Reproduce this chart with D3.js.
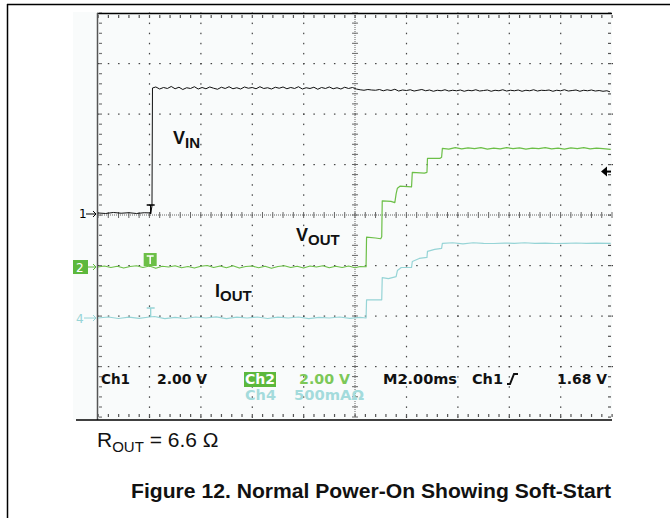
<!DOCTYPE html>
<html>
<head>
<meta charset="utf-8">
<script src="https://cdn.jsdelivr.net/npm/d3@7"></script>
<style>
  body { margin: 0; background: #fff; }
  svg { display: block; }
</style>
</head>
<body>
<svg id="chart" width="670" height="518"></svg>
<script>
// Scope capture: 10 x 8 divisions, M2.00ms/div
// time in ms (0..20), values in V or A

var vinData = [
  [0, 0.04], [0.3, 0.02], [0.6, 0.06], [0.9, 0.03], [1.2, 0.05], [1.5, 0.02], [1.8, 0.05], [2.05, 0.04],
  [2.1, 0.3], [2.12, 4.99], [2.25, 5.03], [2.4, 4.95], [2.55, 5.01], [2.7, 4.97], [2.85, 5.05], [3.0, 4.96],
  [3.15, 5.02], [3.3, 4.93], [3.45, 5.0], [3.6, 4.97], [3.75, 5.04], [3.9, 4.95], [4.05, 5.01], [4.2, 4.96],
  [4.35, 5.03], [4.5, 4.98], [4.65, 4.94], [4.8, 5.02], [4.95, 4.97], [5.1, 5.04], [5.25, 4.96], [5.4, 5.0],
  [5.55, 4.95], [5.7, 5.03], [5.85, 4.98], [6.0, 5.01], [6.15, 4.96], [6.3, 5.04], [6.45, 4.97], [6.6, 5.0],
  [6.75, 4.95], [6.9, 5.02], [7.05, 4.98], [7.2, 5.03], [7.35, 4.96], [7.5, 5.01], [7.65, 4.97], [7.8, 5.04],
  [7.95, 4.95], [8.1, 5.0], [8.25, 4.97], [8.4, 5.02], [8.55, 4.94], [8.7, 5.01], [8.85, 4.97], [9.0, 5.03],
  [9.15, 4.96], [9.3, 5.0], [9.45, 4.95], [9.6, 5.02], [9.75, 4.97], [9.9, 5.01], [10.05, 4.95],
  [10.2, 4.92], [10.35, 4.9], [10.5, 4.93], [10.65, 4.91], [10.8, 4.9], [10.95, 4.93], [11.1, 4.88], [11.25, 4.92],
  [11.4, 4.89], [11.55, 4.94], [11.7, 4.87], [11.85, 4.91], [12.0, 4.89], [12.15, 4.92], [12.3, 4.87], [12.45, 4.9],
  [12.6, 4.93], [12.75, 4.88], [12.9, 4.91], [13.05, 4.86], [13.2, 4.9], [13.35, 4.88], [13.5, 4.92], [13.65, 4.87],
  [13.8, 4.9], [13.95, 4.88], [14.1, 4.91], [14.25, 4.86], [14.4, 4.9], [14.55, 4.88], [14.7, 4.92], [14.85, 4.87],
  [15.0, 4.89], [15.15, 4.91], [15.3, 4.86], [15.45, 4.9], [15.6, 4.88], [15.75, 4.92], [15.9, 4.87], [16.05, 4.9],
  [16.2, 4.88], [16.35, 4.91], [16.5, 4.86], [16.65, 4.9], [16.8, 4.88], [16.95, 4.92], [17.1, 4.87], [17.25, 4.9],
  [17.4, 4.89], [17.55, 4.91], [17.7, 4.86], [17.85, 4.9], [18.0, 4.88], [18.15, 4.92], [18.3, 4.87], [18.45, 4.89],
  [18.6, 4.91], [18.75, 4.86], [18.9, 4.9], [19.05, 4.88], [19.2, 4.91], [19.35, 4.87], [19.5, 4.89], [19.65, 4.86],
  [19.8, 4.88], [19.92, 4.84]
];

var voutData = [
  [0, 0.0], [0.25, 0.04], [0.5, -0.02], [0.75, 0.03], [1.0, -0.04], [1.25, 0.02], [1.5, 0.05], [1.75, -0.02],
  [2.0, 0.04], [2.25, -0.05], [2.5, 0.03], [2.75, 0.0], [3.0, 0.05], [3.25, -0.03], [3.5, 0.02], [3.75, -0.04],
  [4.0, 0.03], [4.25, 0.06], [4.5, -0.02], [4.75, 0.04], [5.0, -0.03], [5.25, 0.05], [5.5, -0.04], [5.75, 0.02],
  [6.0, 0.04], [6.25, -0.03], [6.5, 0.03], [6.75, -0.05], [7.0, 0.02], [7.25, 0.05], [7.5, -0.02], [7.75, 0.03],
  [8.0, -0.04], [8.25, 0.04], [8.5, 0.0], [8.75, 0.05], [9.0, -0.03], [9.25, 0.03], [9.5, -0.02], [9.75, 0.04],
  [10.0, -0.03], [10.2, 0.02], [10.43, 0.01],
  [10.45, 1.18], [10.8, 1.15], [11.0, 1.12], [11.04, 1.2], [11.06, 2.62], [11.4, 2.6], [11.55, 2.55],
  [11.6, 2.9], [11.65, 3.12], [11.75, 3.2], [12.2, 3.17], [12.23, 3.75], [12.7, 3.72], [12.8, 3.75],
  [12.82, 4.3], [13.3, 4.3], [13.37, 4.35], [13.4, 4.7],
  [13.65, 4.67], [13.9, 4.73], [14.15, 4.68], [14.4, 4.72], [14.65, 4.69], [14.9, 4.73], [15.15, 4.67],
  [15.4, 4.71], [15.65, 4.68], [15.9, 4.73], [16.15, 4.69], [16.4, 4.72], [16.65, 4.67], [16.9, 4.71],
  [17.15, 4.69], [17.4, 4.73], [17.65, 4.68], [17.9, 4.71], [18.15, 4.67], [18.4, 4.72], [18.65, 4.69],
  [18.9, 4.73], [19.15, 4.68], [19.4, 4.71], [19.65, 4.69], [19.95, 4.66]
];

var ioutData = [
  [0, 0.0], [0.4, 0.01], [0.8, -0.005], [1.2, 0.008], [1.6, -0.004], [2.0, 0.01], [2.2, 0.015], [2.6, -0.006],
  [3.0, 0.007], [3.4, -0.005], [3.8, 0.01], [4.2, 0.0], [4.6, 0.012], [5.0, -0.006], [5.4, 0.008], [5.8, 0.0],
  [6.2, 0.01], [6.6, -0.005], [7.0, 0.009], [7.4, 0.0], [7.8, 0.01], [8.2, -0.006], [8.6, 0.007], [9.0, 0.0],
  [9.4, 0.01], [9.8, -0.004], [10.2, 0.006], [10.43, 0.0],
  [10.45, 0.18], [11.04, 0.18], [11.06, 0.40], [11.3, 0.39], [11.6, 0.41], [11.65, 0.47], [11.8, 0.5],
  [12.2, 0.5], [12.23, 0.56], [12.5, 0.59], [12.8, 0.6], [12.82, 0.66], [13.1, 0.68], [13.37, 0.69],
  [13.4, 0.74], [13.8, 0.745], [14.2, 0.735], [14.6, 0.745], [15.0, 0.74], [15.4, 0.738], [15.8, 0.742],
  [16.2, 0.74], [16.6, 0.745], [17.0, 0.74], [17.4, 0.742], [17.8, 0.738], [18.2, 0.74], [18.6, 0.743],
  [19.0, 0.74], [19.4, 0.742], [19.95, 0.74]
];

// channel setup: volts (or amps) per division and ground offset in divisions
var channels = [
  { id: "1", perDiv: 2.0, offset: 0.02, color: "#111111", width: 1.0, data: vinData },
  { id: "2", perDiv: 2.0, offset: -1.03, color: "#6cbf47", width: 1.2, data: voutData },
  { id: "4", perDiv: 0.5, offset: -2.04, color: "#96d4d6", width: 1.2, data: ioutData }
];

var triggerTime = 2.05;
var triggerLevel = 1.68;

var svg = d3.select("#chart");

var xScale = d3.scaleLinear().domain([0, 20]).range([98, 612]);
var yScale = d3.scaleLinear().domain([-4, 4]).range([417, 13]);

// page frame
svg.append("line").attr("x1", 7).attr("x2", 670).attr("y1", 4.5).attr("y2", 4.5)
  .style("stroke", "#000").style("stroke-width", 1.5);
svg.append("line").attr("x1", 7.5).attr("x2", 7.5).attr("y1", 4).attr("y2", 518)
  .style("stroke", "#000").style("stroke-width", 1.5);

// scope background
svg.append("rect").attr("x", 73).attr("y", 12).attr("width", 539).attr("height", 408)
  .style("fill", "#f9fbfb");

var grid = svg.append("g");

// minor positions
var xMinor = d3.range(0, 20.001, 0.4);
var yMinor = d3.range(-4, 4.001, 0.2);
var xMajor = d3.range(2, 19, 2);
var yMajor = d3.range(-3, 3.5, 1);

// dotted major lines
xMajor.filter(d => d !== 10).forEach(function (t) {
  grid.selectAll(null).data(yMinor).enter().append("rect")
    .attr("x", xScale(t) - 0.5).attr("y", d => yScale(d) - 0.5)
    .attr("width", 1.2).attr("height", 1.5).style("fill", "#444");
});
yMajor.filter(d => d !== 0).forEach(function (v) {
  grid.selectAll(null).data(xMinor).enter().append("rect")
    .attr("x", d => xScale(d) - 0.5).attr("y", yScale(v) - 0.5)
    .attr("width", 1.5).attr("height", 1.2).style("fill", "#444");
});

// centre cross
grid.append("line").attr("x1", 98).attr("x2", 612).attr("y1", yScale(0)).attr("y2", yScale(0))
  .style("stroke", "#666").style("stroke-width", 1).style("stroke-dasharray", "1,1");
grid.append("line").attr("x1", xScale(10)).attr("x2", xScale(10)).attr("y1", 13).attr("y2", 417)
  .style("stroke", "#666").style("stroke-width", 1).style("stroke-dasharray", "1,1");
grid.selectAll(null).data(xMinor).enter().append("line")
  .attr("x1", d => xScale(d)).attr("x2", d => xScale(d))
  .attr("y1", yScale(0) - 3).attr("y2", yScale(0) + 3)
  .style("stroke", "#666").style("stroke-width", 1);
grid.selectAll(null).data(yMinor).enter().append("line")
  .attr("x1", xScale(10) - 3).attr("x2", xScale(10) + 3)
  .attr("y1", d => yScale(d)).attr("y2", d => yScale(d))
  .style("stroke", "#666").style("stroke-width", 1);

// border ticks
grid.selectAll(null).data(xMinor).enter().append("rect")
  .attr("x", d => xScale(d) - 0.5).attr("y", 15).attr("width", 1.2).attr("height", 3).style("fill", "#555");
grid.selectAll(null).data(xMinor).enter().append("rect")
  .attr("x", d => xScale(d) - 0.5).attr("y", 414).attr("width", 1.2).attr("height", 3).style("fill", "#555");
grid.selectAll(null).data(yMinor).enter().append("rect")
  .attr("x", 99).attr("y", d => yScale(d) - 0.5).attr("width", 3).attr("height", 1.2).style("fill", "#777");
grid.selectAll(null).data(yMinor).enter().append("rect")
  .attr("x", 608).attr("y", d => yScale(d) - 0.5).attr("width", 3).attr("height", 1.2).style("fill", "#555");

// graticule edges
grid.append("line").attr("x1", 97).attr("x2", 612).attr("y1", 13.5).attr("y2", 13.5)
  .style("stroke", "#000").style("stroke-width", 1.5);
grid.append("line").attr("x1", 97.5).attr("x2", 97.5).attr("y1", 13).attr("y2", 420)
  .style("stroke", "#555").style("stroke-width", 1.5);
grid.append("line").attr("x1", 76).attr("x2", 612).attr("y1", 420).attr("y2", 420)
  .style("stroke", "#000").style("stroke-width", 1.5);

// traces
var traces = svg.append("g");
channels.forEach(function (ch) {
  var line = d3.line()
    .x(d => xScale(d[0]))
    .y(d => yScale(ch.offset + d[1] / ch.perDiv));
  traces.append("path")
    .datum(ch.data)
    .attr("d", line)
    .style("fill", "none")
    .style("stroke", ch.color)
    .style("stroke-width", ch.width)
    .style("stroke-linejoin", "round");
});

// ground markers on the left
var mk = svg.append("g").style("font-family", "'DejaVu Sans', sans-serif").style("font-size", "12px");
var g1 = yScale(channels[0].offset), g2 = yScale(channels[1].offset), g4 = yScale(channels[2].offset);
mk.append("text").attr("x", 79).attr("y", g1 + 4.5).text("1").style("fill", "#000");
mk.append("path").attr("d", `M86,${g1}H96M93,${g1 - 3}L96,${g1}L93,${g1 + 3}`)
  .style("stroke", "#000").style("fill", "none");
mk.append("rect").attr("x", 73).attr("y", g2 - 7).attr("width", 15).attr("height", 14).style("fill", "#5cb83c");
mk.append("text").attr("x", 76).attr("y", g2 + 4.5).text("2").style("fill", "#fff");
mk.append("path").attr("d", `M88,${g2}H96M93,${g2 - 3}L96,${g2}L93,${g2 + 3}`)
  .style("stroke", "#5cb83c").style("fill", "none");
mk.append("text").attr("x", 76).attr("y", g4 + 4.5).text("4").style("fill", "#96d4d6");
mk.append("path").attr("d", `M84,${g4}H96M93,${g4 - 3}L96,${g4}L93,${g4 + 3}`)
  .style("stroke", "#96d4d6").style("fill", "none");

// trigger position markers
var tx = xScale(triggerTime);
svg.append("path").attr("d", `M${tx - 4},${g1 - 9}H${tx + 4}M${tx},${g1 - 9}V${g1}`)
  .style("stroke", "#000").style("stroke-width", 1.3).style("fill", "none");
svg.append("rect").attr("x", tx - 7).attr("y", g2 - 14).attr("width", 13).attr("height", 13).style("fill", "#6cbf47");
svg.append("path").attr("d", `M${tx - 4},${g2 - 11}H${tx + 3}M${tx - 0.5},${g2 - 11}V${g2 - 3}`)
  .style("stroke", "#fff").style("stroke-width", 1.5).style("fill", "none");
svg.append("path").attr("d", `M${tx - 4},${g4 - 10}H${tx + 4}M${tx},${g4 - 10}V${g4 - 1}`)
  .style("stroke", "#96d4d6").style("stroke-width", 1.3).style("fill", "none");

// trigger level arrow on the right
var ty = yScale(channels[0].offset + triggerLevel / channels[0].perDiv);
svg.append("path").attr("d", `M601,${ty}L607,${ty - 5}L607,${ty + 5}Z`).style("fill", "#000");
svg.append("line").attr("x1", 605).attr("x2", 611).attr("y1", ty).attr("y2", ty)
  .style("stroke", "#000").style("stroke-width", 2);

// readout
var ro = svg.append("g").style("font-family", "'DejaVu Sans', sans-serif")
  .style("font-size", "14px").style("font-weight", "bold");
var readout = [
  { x: 101, y: 384, w: 29, s: "Ch1", c: "#111" },
  { x: 157, y: 384, w: 50, s: "2.00 V", c: "#111" },
  { x: 299, y: 384, w: 51, s: "2.00 V", c: "#7cc858" },
  { x: 383, y: 384, w: 74, s: "M2.00ms", c: "#111" },
  { x: 472, y: 384, w: 31, s: "Ch1", c: "#111" },
  { x: 557, y: 384, w: 50, s: "1.68 V", c: "#111" },
  { x: 245, y: 400, w: 31, s: "Ch4", c: "#a4dbdc" },
  { x: 294, y: 400, w: 70, s: "500mAΩ", c: "#a4dbdc" }
];
ro.append("rect").attr("x", 244).attr("y", 372).attr("width", 32).attr("height", 15).style("fill", "#5cb83c");
ro.append("text").attr("x", 245).attr("y", 384).attr("textLength", 30).attr("lengthAdjust", "spacingAndGlyphs")
  .text("Ch2").style("fill", "#fff");
ro.selectAll(".ro").data(readout).enter().append("text")
  .attr("class", "ro")
  .attr("x", d => d.x).attr("y", d => d.y)
  .attr("textLength", d => d.w).attr("lengthAdjust", "spacingAndGlyphs")
  .style("fill", d => d.c)
  .text(d => d.s);
ro.append("path").attr("d", "M507,384H510L514,374H518")
  .style("stroke", "#111").style("stroke-width", 2).style("fill", "none");

// trace labels
var lab = svg.append("g").style("font-family", "'Liberation Sans', Arial, sans-serif")
  .style("font-weight", "bold").style("fill", "#111");
function label(x, y, main, sub) {
  var t = lab.append("text").attr("x", x).attr("y", y);
  t.append("tspan").style("font-size", "18px").text(main);
  t.append("tspan").attr("dy", 4).style("font-size", "15px").text(sub);
}
label(173, 144, "V", "IN");
label(296, 241, "V", "OUT");
label(215, 297, "I", "OUT");

// caption
var cap = svg.append("g").style("font-family", "'Liberation Sans', Arial, sans-serif").style("fill", "#111");
var rt = cap.append("text").attr("x", 97).attr("y", 447).style("font-size", "21px");
rt.append("tspan").text("R");
rt.append("tspan").attr("dy", 5).style("font-size", "15px").text("OUT");
rt.append("tspan").attr("dy", -5).text(" = 6.6 Ω");

cap.append("text").attr("x", 131).attr("y", 498)
  .attr("textLength", 480).attr("lengthAdjust", "spacingAndGlyphs")
  .style("font-size", "21px").style("font-weight", "bold")
  .text("Figure 12. Normal Power-On Showing Soft-Start");
</script>
</body>
</html>
